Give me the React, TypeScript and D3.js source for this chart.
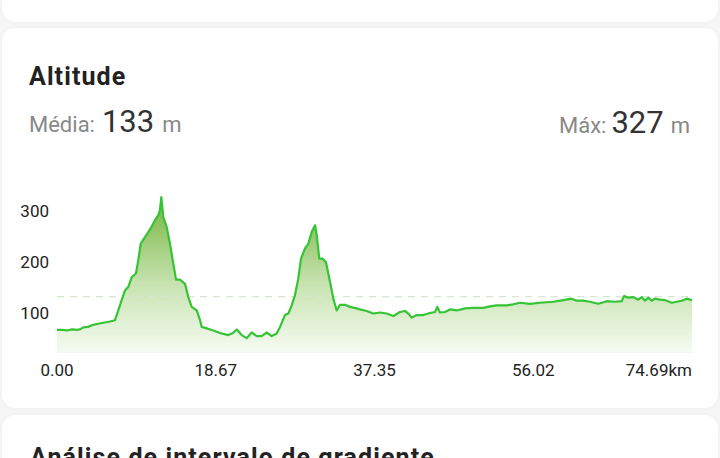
import React from "react";
import * as d3 from "d3";

// Distance along the route (km) and altitude (m)
const distanceKm = [
  0, 0.59, 1.18, 1.76, 2.35, 2.7, 3.09, 3.65, 4.27, 4.82, 5.45, 6.12, 6.82, 7.21, 7.61, 8.0, 8.39, 8.79,
  9.29, 9.56, 9.84, 10.35, 10.94, 11.53, 11.91, 12.11, 12.27, 12.5, 12.9, 13.29, 13.68, 14.0, 14.47,
  15.06, 15.44, 15.84, 16.43, 16.82, 17.02, 17.61, 18.38, 19.17, 20.15, 20.7, 21.14, 21.72, 22.31,
  22.9, 23.49, 24.08, 24.66, 25.25, 25.84, 26.23, 26.82, 27.21, 27.61, 27.99, 28.38, 28.7, 29.17,
  29.56, 29.96, 30.35, 30.55, 30.85, 31.25, 31.64, 32.11, 32.5, 32.9, 33.29, 33.87, 34.46, 35.25,
  35.64, 36.43, 37.2, 37.99, 38.78, 39.56, 40.34, 40.93, 41.32, 41.72, 42.31, 43.08, 43.87, 44.46,
  44.73, 45.05, 45.64, 46.22, 47.01, 47.99, 48.97, 50.14, 50.93, 51.72, 52.89, 53.67, 54.46, 55.63,
  56.81, 58.37, 59.55, 60.54, 61.13, 61.9, 62.69, 63.67, 64.66, 65.63, 66.42, 66.69, 67.2, 67.78,
  68.37, 68.77, 69.16, 69.55, 69.95, 70.34, 70.93, 71.52, 72.3, 72.89, 73.48, 74.07, 74.69,
];
const altitudeM = [
  68, 68, 67, 69, 68, 69, 73, 74, 78, 80, 82, 84, 87, 106, 126, 145, 152, 171,
  178, 204, 236, 249, 264, 282, 292, 301, 327, 288, 269, 236, 197, 166, 166,
  158, 132, 113, 106, 87, 74, 71, 67, 62, 58, 62, 69, 58, 52,
  63, 56, 56, 63, 56, 61, 74, 97, 100, 116, 136, 168, 207, 227,
  236, 259, 272, 253, 207, 207, 200, 162, 129, 106, 117, 117, 113, 110,
  108, 105, 100, 102, 100, 95, 103, 105, 100, 92, 97, 97, 101, 103,
  113, 102, 103, 108, 106, 110, 111, 111, 114, 116, 116, 118, 121, 119,
  121, 123, 126, 129, 125, 125, 123, 119, 124, 123, 124, 134, 131, 132,
  127, 132, 125, 131, 125, 129, 127, 126, 121, 123, 125, 129, 126,
];

const xTicks = [0, 18.67, 37.35, 56.02, 74.69];
const xTickLabels = ["0.00", "18.67", "37.35", "56.02", "74.69km"];
const yTicks = [100, 200, 300];
const averageAltitude = 133;
const maxAltitude = 327;

const W = 720;
const H = 458;
const FONT = "Roboto, 'Noto Sans', sans-serif";

export default function App() {
  const points = distanceKm.map((d, i) => ({ d, a: altitudeM[i] }));

  const x = d3.scaleLinear().domain([0, 74.69]).range([57, 692]);
  const y = d3.scaleLinear().domain([25, 350]).range([352, 185.3]);

  const line = d3
    .line<{ d: number; a: number }>()
    .x((p) => x(p.d))
    .y((p) => y(p.a));
  const area = d3
    .area<{ d: number; a: number }>()
    .x((p) => x(p.d))
    .y0(y(25))
    .y1((p) => y(p.a));

  return (
    <>
      <style>{`body{margin:0;background:#f6f6f6}`}</style>
      <svg width={W} height={H} style={{ display: "block" }} fontFamily={FONT}>
        <defs>
          <linearGradient
            id="altFill"
            gradientUnits="userSpaceOnUse"
            x1="0"
            x2="0"
            y1={y(maxAltitude)}
            y2={y(25)}
          >
            <stop offset="0" stopColor="rgb(116,180,64)" />
            <stop offset="0.55" stopColor="rgb(198,226,174)" />
            <stop offset="1" stopColor="rgb(246,251,242)" />
          </linearGradient>
          <filter id="cardShadow" x="-5%" y="-5%" width="110%" height="110%">
            <feDropShadow dx="0" dy="0" stdDeviation="2" floodColor="#000" floodOpacity="0.04" />
          </filter>
        </defs>

        <rect x={0} y={0} width={W} height={H} fill="#f6f6f6" />
        {/* cards */}
        <rect x={2} y={-30} width={W - 4} height={52} rx={14} fill="#fff" filter="url(#cardShadow)" />
        <rect x={2} y={28} width={W - 4} height={380} rx={14} fill="#fff" filter="url(#cardShadow)" />
        <rect x={2} y={415} width={W - 4} height={80} rx={14} fill="#fff" filter="url(#cardShadow)" />

        {/* header */}
        <text x={29} y={85} fontSize={25} fontWeight={700} fill="#222" letterSpacing={1.1}>
          Altitude
        </text>
        <text x={29} y={132} fill="#888" fontSize={22}>
          Média:
          <tspan dx={7} fontSize={31} fill="#333">
            {averageAltitude}
          </tspan>
          <tspan dx={8} fontSize={22} fill="#888">
            m
          </tspan>
        </text>
        <text x={690} y={133} fill="#888" fontSize={22} textAnchor="end">
          Máx:
          <tspan dx={5} fontSize={31} fill="#333">
            {maxAltitude}
          </tspan>
          <tspan dx={7} fontSize={22} fill="#888">
            m
          </tspan>
        </text>

        {/* baseline */}
        <line x1={x(0)} x2={x(74.69)} y1={y(25)} y2={y(25)} stroke="#eeeeee" strokeWidth={1} />

        {/* profile */}
        <path d={area(points) ?? ""} fill="url(#altFill)" />
        <line
          x1={x(0)}
          x2={x(74.69)}
          y1={y(averageAltitude)}
          y2={y(averageAltitude)}
          stroke="#d6e6cf"
          strokeWidth={1.2}
          strokeDasharray="7 6"
        />
        <path d={line(points) ?? ""} fill="none" stroke="#34c434" strokeWidth={2.2} strokeLinejoin="round" />

        {/* y ticks */}
        {yTicks.map((t) => (
          <text key={t} x={49} y={y(t)} dy="0.35em" textAnchor="end" fontSize={17} fill="#222">
            {t}
          </text>
        ))}

        {/* x ticks */}
        {xTicks.map((t, i) => (
          <text
            key={t}
            x={x(t)}
            y={376}
            textAnchor={i === xTicks.length - 1 ? "end" : "middle"}
            fontSize={17}
            fill="#222"
          >
            {xTickLabels[i]}
          </text>
        ))}

        {/* next section title */}
        <text x={30} y={466} fontSize={25} fontWeight={700} fill="#222" letterSpacing={1.1}>
          Análise de intervalo de gradiente
        </text>
      </svg>
    </>
  );
}
